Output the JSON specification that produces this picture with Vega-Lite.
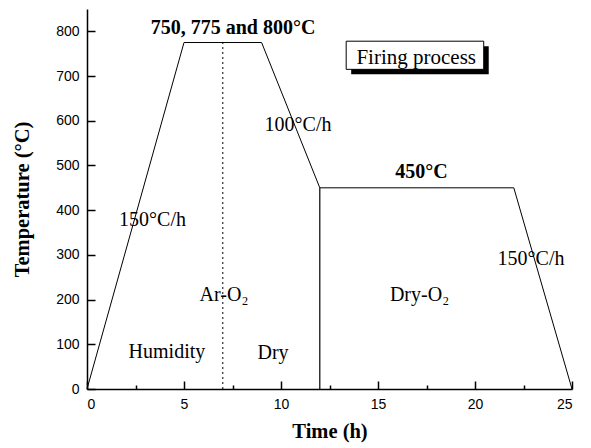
{
  "$schema": "https://vega.github.io/schema/vega-lite/v6.json",
  "width": 485,
  "height": 380,
  "autosize": "none",
  "padding": {"left": 87, "top": 9, "right": 19, "bottom": 59},
  "background": "white",
  "config": {
    "view": {"stroke": null},
    "axis": {
      "domainColor": "black",
      "domainWidth": 1.5,
      "tickColor": "black",
      "tickWidth": 1.5,
      "grid": false,
      "labelFont": "Liberation Sans",
      "labelFontSize": 14,
      "labelColor": "black",
      "titleFont": "Liberation Serif",
      "titleFontWeight": "bold",
      "titleFontSize": 20.5,
      "titleColor": "black"
    }
  },
  "datasets": {
    "profile": [
      {"step": 1, "time": 0, "temp": 0},
      {"step": 2, "time": 5, "temp": 775},
      {"step": 3, "time": 9, "temp": 775},
      {"step": 4, "time": 12, "temp": 450},
      {"step": 5, "time": 22, "temp": 450},
      {"step": 6, "time": 25, "temp": 0}
    ],
    "switches": [
      {"time": 7, "from": 0, "to": 775, "style": "dotted"},
      {"time": 12, "from": 0, "to": 450, "style": "solid"}
    ],
    "notesBold": [
      {"label": "750, 775 and 800°C", "t": 7.53, "v": 793},
      {"label": "450°C", "t": 17.24, "v": 472}
    ],
    "notes": [
      {"label": "100°C/h", "t": 10.88, "v": 576},
      {"label": "150°C/h", "t": 3.38, "v": 365},
      {"label": "Ar-O₂", "t": 7.06, "v": 197},
      {"label": "Humidity", "t": 4.12, "v": 69},
      {"label": "Dry", "t": 9.59, "v": 66},
      {"label": "Dry-O₂", "t": 17.14, "v": 196},
      {"label": "150°C/h", "t": 22.89, "v": 278}
    ],
    "legendBox": [
      {"label": "Firing process", "t1": 13.36, "t2": 20.45, "v1": 715, "v2": 778, "t": 16.97, "v": 728}
    ]
  },
  "layer": [
    {
      "data": {"name": "profile"},
      "mark": {"type": "line", "color": "black", "strokeWidth": 1},
      "encoding": {
        "x": {
          "field": "time", "type": "quantitative",
          "scale": {"domain": [0, 25], "nice": false, "zero": false},
          "axis": {
            "title": "Time (h)",
            "values": [0, 2.5, 5, 7.5, 10, 12.5, 15, 17.5, 20, 22.5, 25],
            "format": "d",
            "labelExpr": "datum.value % 5 === 0 ? datum.label : ''",
            "tickSize": {"condition": {"test": "datum.value % 5 === 0", "value": -8}, "value": -4},
            "labelPadding": 16,
            "titlePadding": 10
          }
        },
        "y": {
          "field": "temp", "type": "quantitative",
          "scale": {"domain": [0, 850], "nice": false},
          "axis": {
            "title": "Temperature (°C)",
            "values": [0, 50, 100, 150, 200, 250, 300, 350, 400, 450, 500, 550, 600, 650, 700, 750, 800, 850],
            "format": "d",
            "labelExpr": "datum.value % 100 === 0 ? datum.label : ''",
            "tickSize": {"condition": {"test": "datum.value % 100 === 0", "value": -8}, "value": -4},
            "labelPadding": 16,
            "titlePadding": 23
          }
        },
        "order": {"field": "step", "type": "quantitative"}
      }
    },
    {
      "data": {"name": "switches"},
      "transform": [{"filter": "datum.style === 'dotted'"}],
      "mark": {"type": "rule", "color": "black", "strokeWidth": 1, "strokeDash": [2, 3]},
      "encoding": {
        "x": {"field": "time", "type": "quantitative"},
        "y": {"field": "from", "type": "quantitative"},
        "y2": {"field": "to"}
      }
    },
    {
      "data": {"name": "switches"},
      "transform": [{"filter": "datum.style === 'solid'"}],
      "mark": {"type": "rule", "color": "black", "strokeWidth": 1.2},
      "encoding": {
        "x": {"field": "time", "type": "quantitative"},
        "y": {"field": "from", "type": "quantitative"},
        "y2": {"field": "to"}
      }
    },
    {
      "data": {"name": "legendBox"},
      "mark": {"type": "rect", "color": "black", "xOffset": 5, "x2Offset": 5, "yOffset": 5, "y2Offset": 5},
      "encoding": {
        "x": {"field": "t1", "type": "quantitative"},
        "x2": {"field": "t2"},
        "y": {"field": "v1", "type": "quantitative"},
        "y2": {"field": "v2"}
      }
    },
    {
      "data": {"name": "legendBox"},
      "mark": {"type": "rect", "fill": "white", "stroke": "black", "strokeWidth": 1},
      "encoding": {
        "x": {"field": "t1", "type": "quantitative"},
        "x2": {"field": "t2"},
        "y": {"field": "v1", "type": "quantitative"},
        "y2": {"field": "v2"}
      }
    },
    {
      "data": {"name": "legendBox"},
      "mark": {"type": "text", "font": "Liberation Serif", "fontSize": 21, "color": "black", "align": "center", "baseline": "alphabetic"},
      "encoding": {
        "x": {"field": "t", "type": "quantitative"},
        "y": {"field": "v", "type": "quantitative"},
        "text": {"field": "label"}
      }
    },
    {
      "data": {"name": "notesBold"},
      "mark": {"type": "text", "font": "Liberation Serif", "fontSize": 20, "fontWeight": "bold", "color": "black", "align": "center", "baseline": "alphabetic"},
      "encoding": {
        "x": {"field": "t", "type": "quantitative"},
        "y": {"field": "v", "type": "quantitative"},
        "text": {"field": "label"}
      }
    },
    {
      "data": {"name": "notes"},
      "mark": {"type": "text", "font": "Liberation Serif", "fontSize": 20, "color": "black", "align": "center", "baseline": "alphabetic"},
      "encoding": {
        "x": {"field": "t", "type": "quantitative"},
        "y": {"field": "v", "type": "quantitative"},
        "text": {"field": "label"}
      }
    }
  ]
}
